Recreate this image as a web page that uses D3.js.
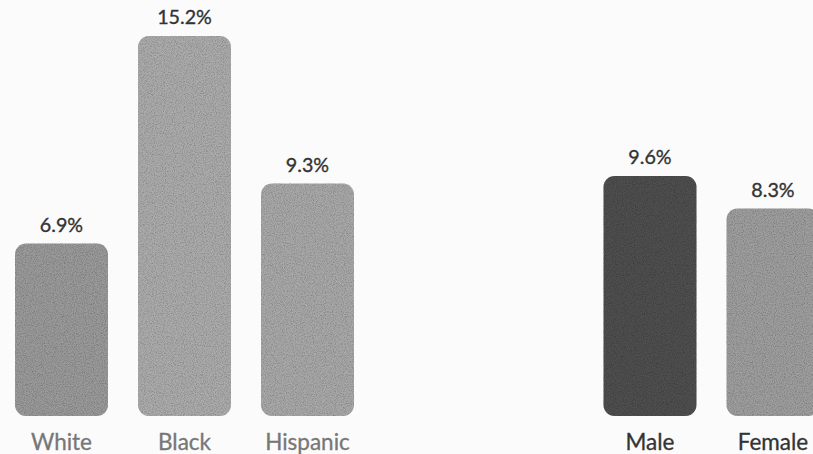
<!DOCTYPE html>
<html>
<head>
<meta charset="utf-8">
<script src="https://cdn.jsdelivr.net/npm/d3@7"></script>
<style>
  html, body { margin: 0; padding: 0; background: #fbfbfb; }
  svg { display: block; }
</style>
</head>
<body>
<div id="chart"></div>
<script>
// ---- data ----
const raceCategories = ["White", "Black", "Hispanic"];
const raceValues = [6.9, 15.2, 9.3];
const sexCategories = ["Male", "Female"];
const sexValues = [9.6, 8.3];
const raceColors = ["#9a9a9a", "#ababab", "#a8a8a8"];
const sexColors = ["#505050", "#9e9e9e"];

const W = 813, H = 454;
const svg = d3.select("#chart").append("svg")
  .attr("width", W).attr("height", H);

// subtle print-like texture
const defs = svg.append("defs");
const f = defs.append("filter").attr("id", "grain")
  .attr("x", 0).attr("y", 0).attr("width", 1).attr("height", 1);
f.append("feTurbulence").attr("type", "fractalNoise")
  .attr("baseFrequency", 0.9).attr("numOctaves", 2).attr("seed", 3).attr("result", "noise");
f.append("feColorMatrix").attr("in", "noise").attr("type", "matrix")
  .attr("values", "0 0 0 0 0  0 0 0 0 0  0 0 0 0 0  0 0 0 -0.9 0.55").attr("result", "dots");
f.append("feComposite").attr("in", "dots").attr("in2", "SourceGraphic").attr("operator", "in").attr("result", "dm");
f.append("feMerge").selectAll("feMergeNode").data(["SourceGraphic", "dm"]).join("feMergeNode").attr("in", d => d);

const y = d3.scaleLinear().domain([0, 15.2]).range([416, 36]);

const x1 = d3.scaleBand().domain(raceCategories).range([0, 369])
  .paddingInner(0.244).paddingOuter(0.122);
const x2 = d3.scaleBand().domain(sexCategories).range([588.5, 834.5])
  .paddingInner(0.244).paddingOuter(0.122);

function drawGroup(x, cats, vals, colors, catColor) {
  const data = cats.map((c, i) => ({ c, v: vals[i], col: colors[i] }));
  const g = svg.append("g");
  g.selectAll("rect.bar").data(data).join("rect")
    .attr("class", "bar")
    .attr("x", d => x(d.c))
    .attr("y", d => y(d.v))
    .attr("width", x.bandwidth())
    .attr("height", d => y(0) - y(d.v))
    .attr("rx", 11).attr("ry", 11)
    .attr("fill", d => d.col)
    .attr("filter", "url(#grain)");
  g.selectAll("text.val").data(data).join("text")
    .attr("class", "val")
    .attr("x", d => x(d.c) + x.bandwidth() / 2)
    .attr("y", d => y(d.v) - 12)
    .attr("text-anchor", "middle")
    .attr("font-family", "Lato, 'Open Sans', sans-serif")
    .attr("font-size", 19.7)
    .attr("fill", "#333")
    .attr("stroke", "#333").attr("stroke-width", 0.35)
    .text(d => d.v.toFixed(1) + "%");
  g.selectAll("text.cat").data(data).join("text")
    .attr("class", "cat")
    .attr("x", d => x(d.c) + x.bandwidth() / 2)
    .attr("y", 450)
    .attr("text-anchor", "middle")
    .attr("font-family", "Lato, 'Open Sans', sans-serif")
    .attr("font-size", 22.5)
    .attr("fill", catColor)
    .attr("stroke", catColor).attr("stroke-width", 0.3)
    .text(d => d.c);
}

drawGroup(x1, raceCategories, raceValues, raceColors, "#777777");
drawGroup(x2, sexCategories, sexValues, sexColors, "#333333");
</script>
</body>
</html>
